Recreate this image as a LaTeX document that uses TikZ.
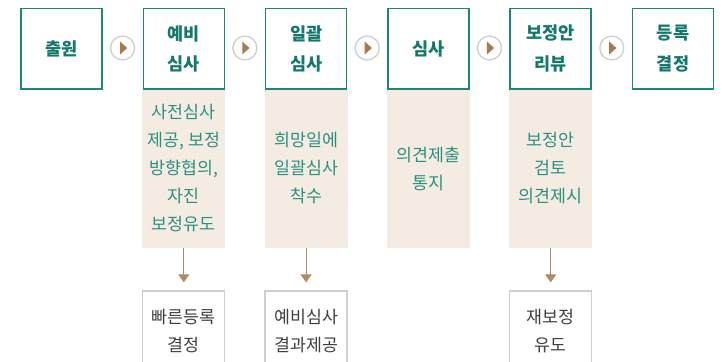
\documentclass[tikz,border=0pt]{standalone}
\usepackage{fontspec}
\newfontfamily\kr{Noto Sans CJK KR}
\usetikzlibrary{calc,arrows.meta}
\definecolor{teal1}{HTML}{1C8677}
\definecolor{tealtxt}{HTML}{14786A}
\definecolor{tealsoft}{HTML}{2B9080}
\definecolor{beige}{HTML}{F4ECE2}
\definecolor{brownarr}{HTML}{B08A64}
\definecolor{browntri}{HTML}{A87A4E}
\definecolor{graybd}{HTML}{CFCFCF}
\definecolor{graytxt}{HTML}{404040}
\begin{document}
\begin{tikzpicture}[x=1pt,y=-1pt,
  stepbox/.style={draw=teal1,line width=1.6pt,fill=white,minimum width=81pt,minimum height=80pt,inner sep=0pt,
    align=center,text=tealtxt,font=\kr\bfseries\fontsize{17.5}{30.5}\selectfont},
  panel/.style={fill=beige,minimum width=83pt,minimum height=158pt,inner sep=0pt,
    align=center,text=tealsoft,font=\kr\fontsize{17.3}{28}\selectfont},
  resbox/.style={draw=graybd,line width=1.3pt,fill=white,minimum width=82pt,minimum height=80pt,inner sep=0pt,
    align=center,text=graytxt,font=\kr\fontsize{17.3}{28}\selectfont},
  nextbtn/.style={circle,draw=graybd,line width=1.3pt,fill=white,minimum size=24pt,inner sep=0pt,
    path picture={\fill[browntri] ($(path picture bounding box.center)+(-2.6,-6.5)$) -- ++(7.2,6.5) -- ++(-7.2,6.5) -- cycle;}},
  down/.style={draw=brownarr,line width=1.2pt,-{Triangle[width=11pt,length=8pt]},shorten >=8pt}
]
\clip (0,0) rectangle (722,361);
\fill[white] (0,0) rectangle (722,361);
% panels
\node[panel] (p2) at (183.8,168.5) {사전심사\\제공, 보정\\방향협의,\\자진\\보정유도};
\node[panel] (p3) at (306.1,168.5) {희망일에\\일괄심사\\착수};
\node[panel] (p4) at (428.4,168.5) {의견제출\\통지};
\node[panel] (p5) at (550.7,168.5) {보정안\\검토\\의견제시};
% top boxes
\node[stepbox] (b1) at (61.5,48.7) {출원};
\node[stepbox] (b2) at (183.8,48.7) {예비\\심사};
\node[stepbox] (b3) at (306.1,48.7) {일괄\\심사};
\node[stepbox] (b4) at (428.4,48.7) {심사};
\node[stepbox] (b5) at (550.7,48.7) {보정안\\리뷰};
\node[stepbox] (b6) at (673.0,48.7) {등록\\결정};
% next buttons
\node[nextbtn] (c1) at (122.6,48) {};
\node[nextbtn] (c2) at (244.9,48) {};
\node[nextbtn] (c3) at (367.2,48) {};
\node[nextbtn] (c4) at (489.5,48) {};
\node[nextbtn] (c5) at (611.8,48) {};
% result boxes
\node[resbox] (r2) at (183.8,331) {빠른등록\\결정};
\node[resbox] (r3) at (306.1,331) {예비심사\\결과제공};
\node[resbox] (r5) at (550.7,331) {재보정\\유도};
% arrows
\draw[down] (p2.south) -- (r2.north);
\draw[down] (p3.south) -- (r3.north);
\draw[down] (p5.south) -- (r5.north);
\end{tikzpicture}
\end{document}
